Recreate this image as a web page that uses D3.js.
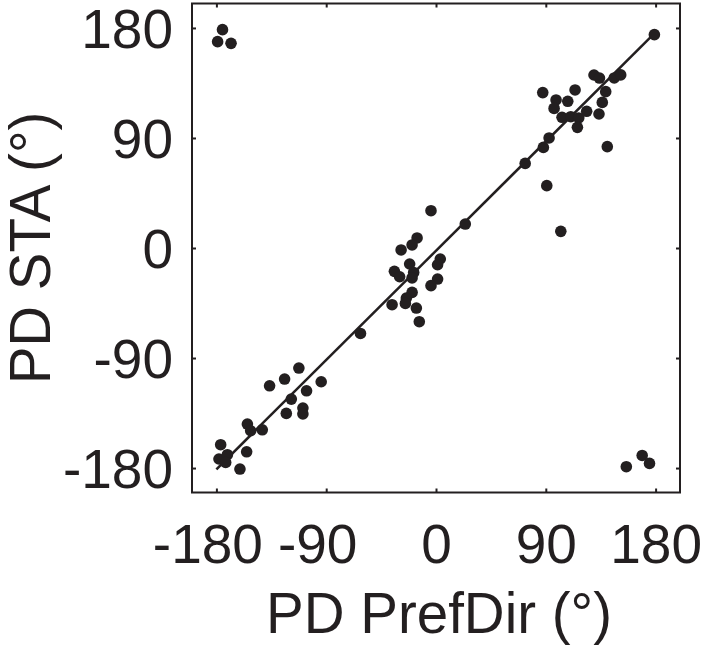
<!DOCTYPE html>
<html>
<head>
<meta charset="utf-8">
<script src="https://cdn.jsdelivr.net/npm/d3@7"></script>
<style>
  html, body { margin: 0; padding: 0; background: #fff; }
  svg { display: block; }
  text { font-family: "Liberation Sans", Arial, sans-serif; fill: #231f20; }
</style>
</head>
<body>
<svg id="chart" width="706" height="651"></svg>
<script>
// ---- data (degrees) ----
const prefDir = [
  -175, -179, -168,
  156, 169, 175,
  179, 87.5, 114, 98.4, 108, 96.8, 103.3, 110.5, 117, 115.9, 123.5, 133.6, 136.3, 139.1,
  129.5, 134, 146.1, 151.4, 92.7, 88, 73.1, 140.4, 90.8, 102.3,
  -4.1, 24, -15.5, -19.6, -28.6, -21.6, -34.1, -29.8, -18.3, -19.6, 3.5, 1.3, 1.3, -4.1,
  -19.6, -24.3, -25.1, -36, -16.1, -13.7, -61.9,
  -112.4, -124.1, -136.4, -94.1, -106.1, -118.6, -122.7, -109.1, -109.1,
  -154.6, -151.9, -142.4, -176.5, -155.2, -177.9, -171, -172.4, -160.7
];
const pdSTA = [
  178.6, 168.8, 167.4,
  -178.9, -169.7, -176.2,
  174.5, 127.1, 129.3, 121.1, 120, 114.2, 106.9, 107.4, 106.4, 98.7, 111.8, 109.6, 119.1, 127.9,
  141.5, 139, 139.1, 141.6, 90, 82.3, 69.2, 82.9, 51, 13.6,
  30.5, 19.6, 8.2, 2.5, -1.6, -13.1, -19.1, -23.5, -20, -24.5, -9, -13.7, -25.4, -30.8,
  -36.3, -40.9, -45.3, -46.4, -49.1, -60.3, -69.9,
  -98.2, -107.2, -112.7, -109.4, -116.8, -123.6, -135.3, -130.9, -135.8,
  -144, -149.5, -148.7, -160.9, -166.7, -172.6, -169.1, -175.4, -180.8
];
const fitX = [-180, 178];
const fitY = [-181, 174.5];
const tickValues = [-180, -90, 0, 90, 180];
const tickLabels = ["-180", "-90", "0", "90", "180"];
const xTitle = "PD PrefDir (°)";
const yTitle = "PD STA (°)";

// ---- layout ----
const svg = d3.select("#chart");
const L = 192, R = 680, T = 3.5, B = 492.5;
const x = d3.scaleLinear().domain([-200, 200]).range([L, R]);
const y = d3.scaleLinear().domain([-200, 200]).range([B, T]);
const ink = "#231f20";
const fs = 55;
const fsTitle = 56.5;

// regression line
svg.append("line")
  .attr("x1", x(fitX[0])).attr("y1", y(fitY[0]))
  .attr("x2", x(fitX[1])).attr("y2", y(fitY[1]))
  .attr("stroke", ink).attr("stroke-width", 2.5);

// points
svg.append("g").selectAll("circle")
  .data(prefDir.map((d, i) => [d, pdSTA[i]]))
  .join("circle")
  .attr("cx", d => x(d[0]))
  .attr("cy", d => y(d[1]))
  .attr("r", 5.8)
  .attr("fill", ink);

// frame
svg.append("rect")
  .attr("x", L).attr("y", T).attr("width", R - L).attr("height", B - T)
  .attr("fill", "none").attr("stroke", ink).attr("stroke-width", 2);

// axes (inward ticks on all sides)
const tk = 4;
const fmt = (d) => tickLabels[tickValues.indexOf(d)];
const gBottom = svg.append("g").attr("transform", `translate(0,${B})`)
  .call(d3.axisBottom(x).tickValues(tickValues).tickSizeInner(-tk).tickSizeOuter(0).tickFormat(fmt));
const gTop = svg.append("g").attr("transform", `translate(0,${T})`)
  .call(d3.axisTop(x).tickValues(tickValues).tickSizeInner(-tk).tickSizeOuter(0).tickFormat(""));
const gLeft = svg.append("g").attr("transform", `translate(${L},0)`)
  .call(d3.axisLeft(y).tickValues(tickValues).tickSizeInner(-tk).tickSizeOuter(0).tickFormat(fmt));
const gRight = svg.append("g").attr("transform", `translate(${R},0)`)
  .call(d3.axisRight(y).tickValues(tickValues).tickSizeInner(-tk).tickSizeOuter(0).tickFormat(""));

[gBottom, gTop, gLeft, gRight].forEach(g => {
  g.select(".domain").remove();
  g.selectAll(".tick line").attr("stroke", ink).attr("stroke-width", 2);
});

gBottom.selectAll(".tick text")
  .attr("y", 0).attr("dy", 0)
  .attr("transform", d => `translate(${d < 0 ? -9 : 0},${563 - B})`)
  .attr("font-size", fs).attr("font-family", "Liberation Sans, Arial, sans-serif")
  .attr("fill", ink).attr("text-anchor", "middle");

gLeft.selectAll(".tick text")
  .attr("x", 173 - L).attr("dy", "0.358em")
  .attr("font-size", fs).attr("font-family", "Liberation Sans, Arial, sans-serif")
  .attr("fill", ink).attr("text-anchor", "end");

// titles
svg.append("text")
  .attr("x", 439).attr("y", 633)
  .attr("text-anchor", "middle").attr("font-size", fsTitle)
  .text(xTitle);

svg.append("text")
  .attr("transform", `translate(50,${y(0)}) rotate(-90)`)
  .attr("text-anchor", "middle").attr("font-size", fsTitle)
  .text(yTitle);
</script>
</body>
</html>
